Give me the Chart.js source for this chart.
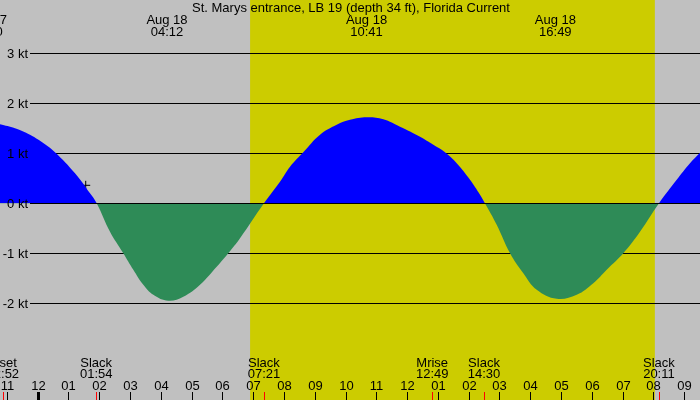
<!DOCTYPE html>
<html>
<head>
<meta charset="utf-8">
<script src="https://cdn.jsdelivr.net/npm/chart.js@4.4.0/dist/chart.umd.min.js"></script>
<style>
  html, body { margin: 0; padding: 0; background: #c0c0c0; }
  #wrap { width: 700px; height: 400px; }
</style>
</head>
<body>
<div id="wrap"><canvas id="tide" width="700" height="400"></canvas></div>
<script>
// hours after midnight Aug 18 (negative = Aug 17), current in knots
const times = [-1.225, -0.737, -0.25, 0.237, 0.562, 1.212, 1.699, 1.917,
  2.349, 2.781, 3.106, 3.431, 3.756, 4.243, 4.73, 5.273, 5.815, 6.192, 6.573, 7.35,
  7.872, 8.197, 8.629, 9.172, 9.714, 10.146, 10.689, 11.228, 11.771, 12.421, 12.853, 13.233, 13.613, 14.045, 14.37, 14.53,
  14.912, 15.345, 15.777, 16.212, 16.862, 17.511, 18.051, 18.486, 19.025, 19.568, 20.185,
  20.76, 21.192, 21.517];
const speeds = [1.58, 1.5, 1.37, 1.18, 1.02, 0.6, 0.2, 0,
  -0.57, -1.0, -1.33, -1.63, -1.83, -1.95, -1.87, -1.63, -1.27, -1.0, -0.7, 0,
  0.43, 0.73, 1.02, 1.37, 1.57, 1.67, 1.72, 1.68, 1.53, 1.33, 1.17, 1.02, 0.8, 0.47, 0.17, 0,
  -0.43, -1.0, -1.4, -1.73, -1.91, -1.83, -1.6, -1.33, -1.0, -0.57, 0,
  0.47, 0.8, 1.01];

const yTicks = [-2, -1, 0, 1, 2, 3];
const yLabels = ["-2 kt", "-1 kt", "0 kt", "1 kt", "2 kt", "3 kt"];

const hourTicks = [-1, 0, 1, 2, 3, 4, 5, 6, 7, 8, 9, 10, 11, 12, 13, 14, 15, 16, 17, 18, 19, 20, 21];
const hourLabels = ["11", "12", "01", "02", "03", "04", "05", "06", "07", "08", "09", "10",
  "11", "12", "01", "02", "03", "04", "05", "06", "07", "08", "09"];

// max current labels at the top
const peakTimes = [-1.667, 4.2, 10.683, 16.817];
const peakDates = ["Aug 17", "Aug 18", "Aug 18", "Aug 18"];
const peakClock = ["22:20", "04:12", "10:41", "16:49"];

// slack / moon events at the bottom
const eventTimes = [-1.133, 1.9, 7.35, 12.817, 14.5, 20.183];
const eventNames = ["Mset", "Slack", "Slack", "Mrise", "Slack", "Slack"];
const eventClock = ["22:52", "01:54", "07:21", "12:49", "14:30", "20:11"];

const sunrise = 6.9;
const sunset = 20.05;
const marker = [{ x: 1.56, y: 0.36 }];

const title = "St. Marys entrance, LB 19 (depth 34 ft), Florida Current";
const FONT = "13px 'Liberation Sans', Arial, sans-serif";

const backdrop = {
  id: "backdrop",
  beforeDraw(chart) {
    const { ctx, scales: { x } } = chart;
    ctx.save();
    ctx.fillStyle = "#c0c0c0";
    ctx.fillRect(0, 0, chart.width, chart.height);
    ctx.fillStyle = "#cccc00";
    const x0 = x.getPixelForValue(sunrise), x1 = x.getPixelForValue(sunset);
    ctx.fillRect(x0, 0, x1 - x0, chart.height);
    ctx.restore();
  },
  beforeDatasetsDraw(chart) {
    const { ctx, scales: { y } } = chart;
    ctx.save();
    ctx.strokeStyle = "#000";
    ctx.lineWidth = 1;
    yTicks.forEach((t) => {
      const py = Math.round(y.getPixelForValue(t)) + 0.5;
      ctx.beginPath();
      ctx.moveTo(30, py);
      ctx.lineTo(chart.width, py);
      ctx.stroke();
    });
    ctx.restore();
  },
  afterDatasetsDraw(chart) {
    const { ctx, scales: { x, y } } = chart;
    ctx.save();
    ctx.strokeStyle = "#000";
    ctx.lineWidth = 1;
    const py0 = Math.round(y.getPixelForValue(0)) + 0.5;
    ctx.beginPath();
    ctx.moveTo(30, py0);
    ctx.lineTo(chart.width, py0);
    ctx.stroke();

    ctx.font = FONT;
    ctx.fillStyle = "#000";
    ctx.textAlign = "right";
    ctx.textBaseline = "middle";
    yTicks.forEach((t, i) => {
      ctx.fillText(yLabels[i], 28, Math.round(y.getPixelForValue(t)) + 1);
    });

    ctx.textAlign = "center";
    ctx.textBaseline = "alphabetic";
    ctx.fillText(title, 351, 12);
    peakTimes.forEach((t, i) => {
      const px = x.getPixelForValue(t);
      ctx.fillText(peakDates[i], px, 24);
      ctx.fillText(peakClock[i], px, 36);
    });
    eventTimes.forEach((t, i) => {
      const px = x.getPixelForValue(t);
      ctx.fillText(eventNames[i], px, 366.5);
      ctx.fillText(eventClock[i], px, 377.5);
    });
    hourTicks.forEach((t, i) => {
      const px = Math.round(x.getPixelForValue(t));
      ctx.fillText(hourLabels[i], px + 0.5, 390);
      const w = t === 0 ? 3 : 1;
      ctx.fillRect(px - Math.floor(w / 2), 392, w, 8);
    });
    ctx.fillStyle = "#ff0000";
    eventTimes.forEach((t) => {
      const px = Math.round(x.getPixelForValue(t));
      ctx.fillRect(px, 392, 1, 8);
    });
    ctx.restore();
  },
};

new Chart(document.getElementById("tide"), {
  type: "line",
  data: {
    datasets: [
      {
        data: times.map((t, i) => ({ x: t, y: speeds[i] })),
        borderWidth: 0,
        borderColor: "rgba(0,0,0,0)",
        pointRadius: 0,
        tension: 0.4,
        fill: { target: "origin", above: "#0000ff", below: "#2e8b57" },
      },
      {
        type: "scatter",
        data: marker,
        pointStyle: "cross",
        pointRadius: 4.5,
        borderColor: "#000",
        borderWidth: 1,
      },
    ],
  },
  options: {
    responsive: false,
    devicePixelRatio: 1,
    animation: false,
    layout: { padding: 0, autoPadding: false },
    scales: {
      x: { type: "linear", min: -1.2248, max: 21.517, display: false },
      y: { min: -3.934, max: 4.066, display: false },
    },
    plugins: { legend: { display: false }, tooltip: { enabled: false } },
  },
  plugins: [backdrop],
});
</script>
</body>
</html>
